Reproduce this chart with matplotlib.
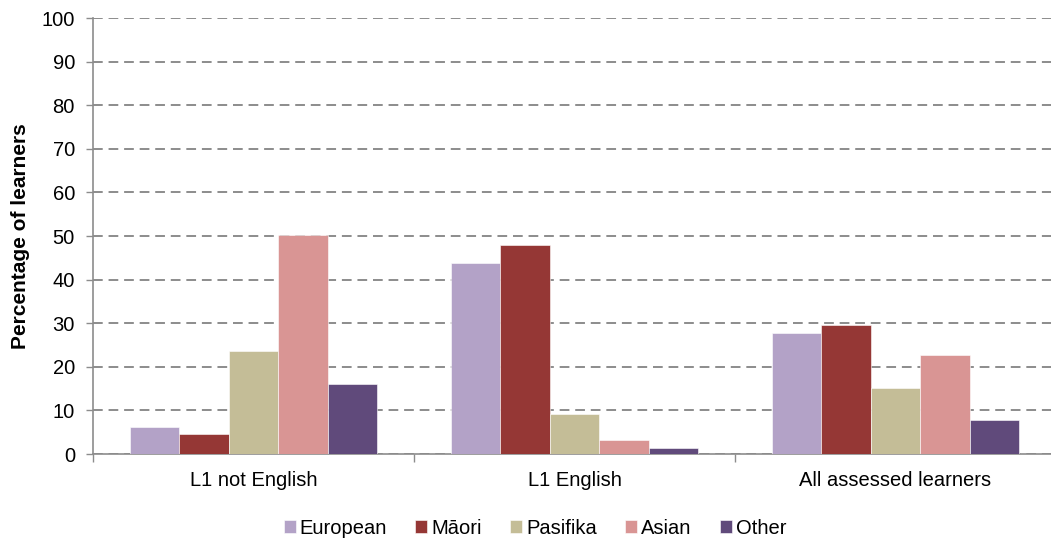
import matplotlib.pyplot as plt
import numpy as np

plt.rcParams['font.family'] = ['Liberation Sans', 'DejaVu Sans']

groups = ['L1 not English', 'L1 English', 'All assessed learners']
series = ['European', 'Māori', 'Pasifika', 'Asian', 'Other']
values = {
    'European': [6.3, 43.9, 27.8],
    'Māori': [4.5, 48.0, 29.7],
    'Pasifika': [23.7, 9.2, 15.1],
    'Asian': [50.2, 3.1, 22.8],
    'Other': [16.0, 1.3, 7.7],
}
colors = ['#B3A2C7', '#953735', '#C4BD97', '#D99594', '#604A7B']

fig = plt.figure(figsize=(10.51, 5.42), dpi=100)
ax = fig.add_axes([93 / 1051, 88 / 542, 963 / 1051, 436 / 542])

x = np.arange(len(groups))
w = 0.154
for i, (name, c) in enumerate(zip(series, colors)):
    ax.bar(x + (i - 2) * w, values[name], w, color=c, label=name,
           edgecolor='white', linewidth=0.4, zorder=3)

ax.set_xlim(-0.5, len(groups) - 0.5)
ax.set_ylim(0, 100)
ax.set_yticks(range(0, 101, 10))
ax.yaxis.grid(True, linestyle=(0, (5, 3)), color='#8C8C8C', linewidth=1.4, zorder=0)

ax.set_xticks(x)
ax.set_xticklabels(groups, fontsize=14.5)
ax.set_xticks(np.arange(-0.5, len(groups)), minor=True)
ax.tick_params(axis='x', which='major', length=0, pad=12)
ax.tick_params(axis='x', which='minor', length=6, width=1, color='#8C8C8C', direction='out')
ax.tick_params(axis='y', length=5, width=1, color='#8C8C8C', labelsize=14.5, pad=8)

for s in ['top', 'right']:
    ax.spines[s].set_visible(False)
for s in ['left', 'bottom']:
    ax.spines[s].set_color('#8C8C8C')
    ax.spines[s].set_linewidth(1.2)

ax.set_ylabel('Percentage of learners', fontsize=15, fontweight='bold', labelpad=8)

fig.legend(loc='center', bbox_to_anchor=(535 / 1051, 1 - 528 / 542), ncol=5,
           frameon=False, fontsize=14.5, handlelength=0.6, handleheight=0.6,
           handletextpad=0.2, columnspacing=1.4)

fig.savefig('out.png', dpi=100)
